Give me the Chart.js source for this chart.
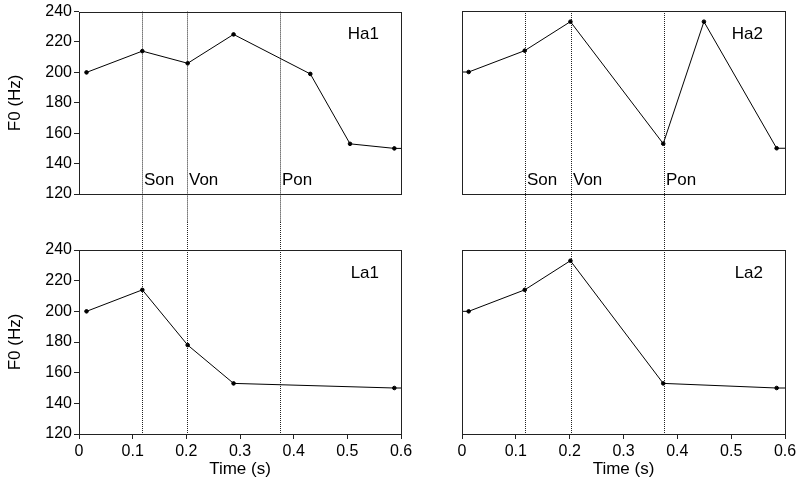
<!DOCTYPE html>
<html>
<head>
<meta charset="utf-8">
<script src="https://cdn.jsdelivr.net/npm/chart.js@4/dist/chart.umd.min.js"></script>
<style>
html,body{margin:0;padding:0;background:#fff;}
#wrap{position:relative;width:800px;height:485px;overflow:hidden;background:#fff;}
.c{position:absolute;}
</style>
</head>
<body>
<div id="wrap">
  <div class="c" style="left:0;top:0;width:430px;height:222px"><canvas id="ha1"></canvas></div>
  <div class="c" style="left:430px;top:0;width:370px;height:222px"><canvas id="ha2"></canvas></div>
  <div class="c" style="left:0;top:222px;width:430px;height:263px"><canvas id="la1"></canvas></div>
  <div class="c" style="left:430px;top:222px;width:370px;height:263px"><canvas id="la2"></canvas></div>
</div>
<script>
// ---- data ----
const ha1Time = [0.014, 0.118, 0.2025, 0.288, 0.431, 0.505, 0.5876, 0.6];
const ha1F0   = [200, 214, 206, 225, 199, 153, 150, 150];
const ha2Time = [0, 0.0124, 0.1165, 0.2014, 0.3738, 0.4494, 0.5845, 0.6];
const ha2F0   = [200, 200, 214, 233, 153, 233, 150, 150];
const la1Time = [0.014, 0.118, 0.2025, 0.288, 0.5876, 0.6];
const la1F0   = [200, 214, 178, 153, 150, 150];
const la2Time = [0, 0.0124, 0.1165, 0.2014, 0.3738, 0.5845, 0.6];
const la2F0   = [200, 200, 214, 233, 153, 150, 150];
const landmarkNames = ['Son', 'Von', 'Pon'];
const landmarkTimes = [0.117, 0.202, 0.375];
const xTickLabels = ['0', '0.1', '0.2', '0.3', '0.4', '0.5', '0.6'];
const yTickLabels = ['120', '140', '160', '180', '200', '220', '240'];

const FONT = "'Liberation Sans', Arial, Helvetica, sans-serif";
Chart.defaults.font.family = FONT;
Chart.defaults.color = '#000';

function panel(id, times, values, name, cfg) {
  const pts = times.map((t, i) => ({x: t, y: values[i]}));
  const deco = {
    id: 'deco_' + id,
    beforeDatasetsDraw(chart) {
      const {ctx, chartArea: a, scales: {x}} = chart;
      ctx.save();
      ctx.strokeStyle = '#222';
      ctx.lineWidth = 1;
      ctx.setLineDash([1, 1]);
      const y0 = cfg.top ? a.top : 0;
      const y1 = cfg.top ? chart.height : a.bottom;
      landmarkTimes.forEach(t => {
        const px = Math.round(x.getPixelForValue(t)) + 0.5;
        ctx.beginPath();
        ctx.moveTo(px, y0);
        ctx.lineTo(px, y1);
        ctx.stroke();
      });
      ctx.restore();
    },
    afterDraw(chart) {
      const {ctx, chartArea: a, scales: {x}} = chart;
      ctx.save();
      ctx.strokeStyle = '#222';
      ctx.lineWidth = 1;
      ctx.strokeRect(Math.round(a.left) + 0.5, Math.round(a.top) + 0.5,
                     Math.round(a.right - a.left), Math.round(a.bottom - a.top));
      ctx.fillStyle = '#000';
      ctx.font = '17px ' + FONT;
      ctx.textBaseline = 'middle';
      ctx.textAlign = 'right';
      ctx.fillText(name, a.right - 22, a.top + 23);
      if (cfg.top) {
        ctx.textAlign = 'left';
        landmarkTimes.forEach((t, i) => {
          const px = Math.round(x.getPixelForValue(t));
          ctx.fillText(landmarkNames[i], px + 2, a.bottom - 14);
        });
      }
      ctx.restore();
    }
  };
  new Chart(document.getElementById(id), {
    type: 'scatter',
    data: {datasets: [{
      data: pts,
      showLine: true,
      borderColor: '#000',
      borderWidth: 1,
      backgroundColor: '#000',
      pointRadius: c => (c.raw && (c.raw.x === 0 || c.raw.x === 0.6)) ? 0 : 1.8,
      pointHoverRadius: 0,
      tension: 0
    }]},
    options: {
      responsive: true,
      maintainAspectRatio: false,
      animation: false,
      events: [],
      plugins: {legend: {display: false}, tooltip: {enabled: false}},
      layout: {padding: cfg.padding},
      scales: {
        x: {
          type: 'linear', min: 0, max: 0.6,
          display: !cfg.top,
          grid: {display: true, drawOnChartArea: false, drawTicks: true, tickLength: 5, color: '#222'},
          border: {display: false},
          ticks: {stepSize: 0.1, autoSkip: false, maxRotation: 0, padding: 3,
                  font: {size: 16}, color: '#000',
                  callback: (v, i) => xTickLabels[i]},
          title: {display: true, text: 'Time (s)', font: {size: 17}, color: '#000', padding: {top: 0, bottom: 5}},
          afterFit: s => { s.height = cfg.top ? 0 : 51; }
        },
        y: {
          type: 'linear', min: 120, max: 240,
          display: cfg.left,
          grid: {display: true, drawOnChartArea: false, drawTicks: true, tickLength: 5, color: '#222'},
          border: {display: false},
          ticks: {stepSize: 20, autoSkip: false, padding: 2, font: {size: 16}, color: '#000',
                  callback: (v, i) => yTickLabels[i]},
          title: {display: true, text: 'F0 (Hz)', font: {size: 17}, color: '#000', padding: {top: 5, bottom: 0}},
          afterFit: s => { s.width = cfg.left ? 79 : 0; }
        }
      }
    },
    plugins: [deco]
  });
}

panel('ha1', ha1Time, ha1F0, 'Ha1', {top: true, left: true, padding: {left: 0, right: 29, top: 11, bottom: 28}});
panel('ha2', ha2Time, ha2F0, 'Ha2', {top: true, left: false, padding: {left: 32, right: 15, top: 11, bottom: 28}});
panel('la1', la1Time, la1F0, 'La1', {top: false, left: true, padding: {left: 0, right: 29, top: 28, bottom: 0}});
panel('la2', la2Time, la2F0, 'La2', {top: false, left: false, padding: {left: 32, right: 15, top: 28, bottom: 0}});
</script>
</body>
</html>
